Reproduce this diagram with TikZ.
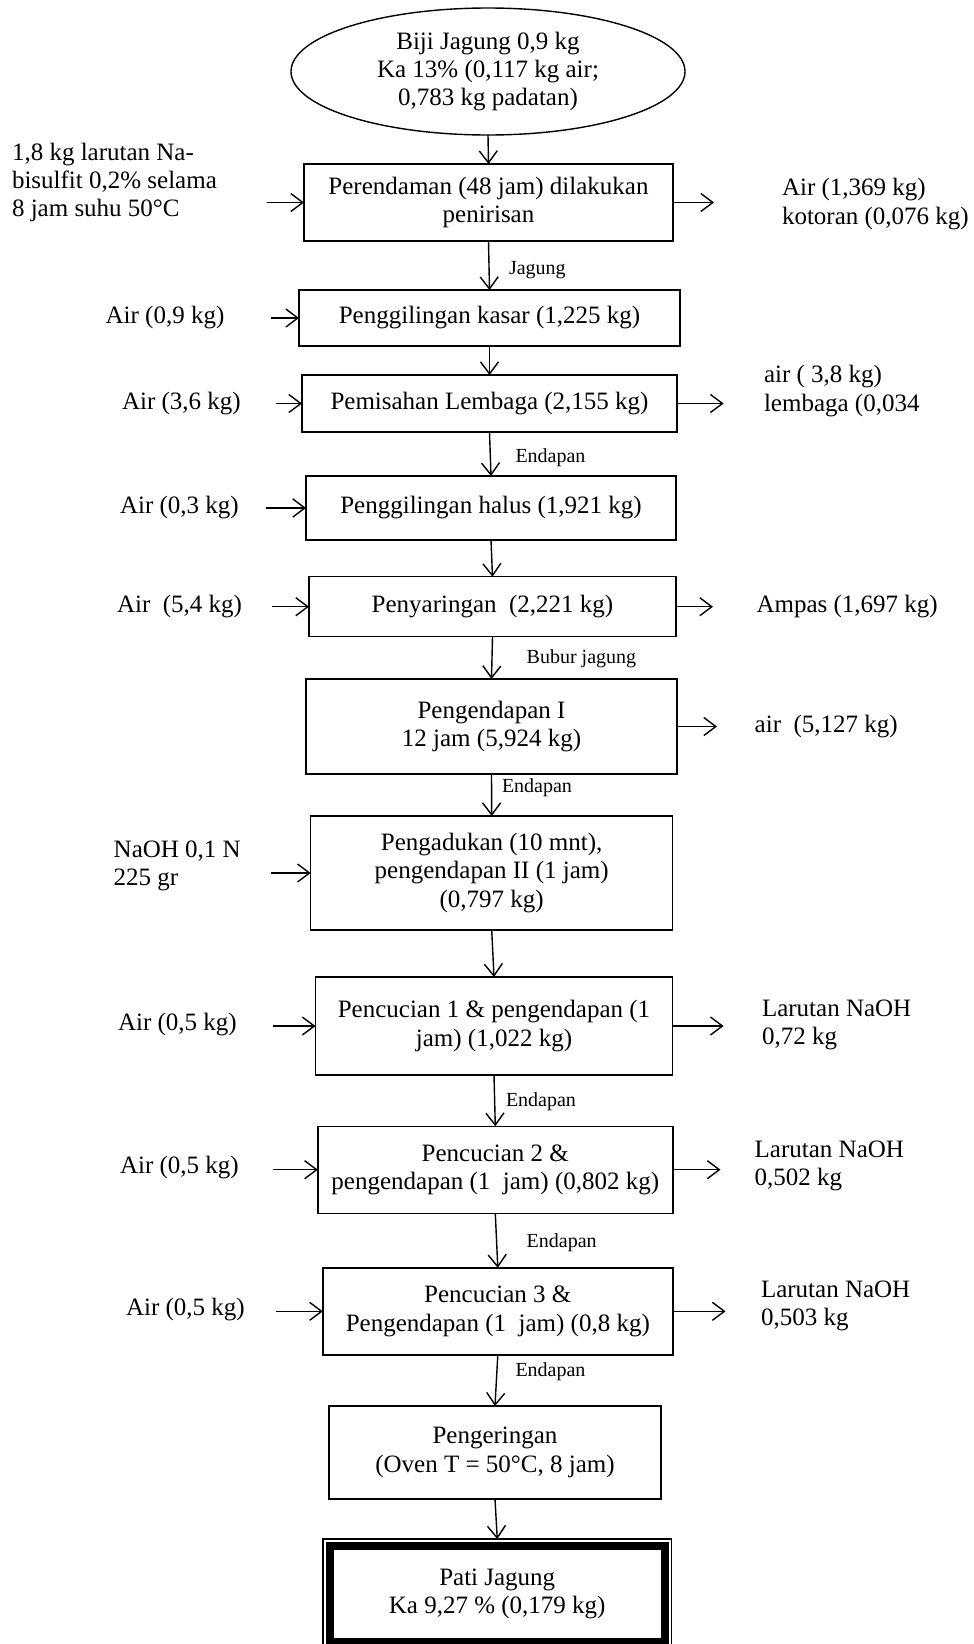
\documentclass[tikz,border=0pt]{standalone}
\usepackage{fontspec}
\setmainfont{Liberation Serif}
\usetikzlibrary{shapes.geometric,arrows.meta,fit}
\begin{document}
\begin{tikzpicture}[x=0.5pt,y=-0.5pt,
  every node/.style={inner sep=0pt, outer sep=0pt},
  txt/.style={font=\fontsize{12.5}{14.2}\selectfont},
  procbox/.style={draw, line width=0.7pt, txt, align=center},
  side/.style={txt, align=left, anchor=west},
  small/.style={font=\fontsize{10}{12}\selectfont, anchor=west},
  arr/.style={line width=0.7pt, -{Straight Barb[length=6pt,width=9pt]}}
]
\useasboundingbox (0,0) rectangle (974,1644);
\clip (0,0) rectangle (974,1644);

% start
\node[draw, ellipse, line width=0.7pt, txt, align=center, minimum width=197pt, minimum height=63.5pt] (e) at (488,71.5) {Biji Jagung 0,9 kg\\Ka 13\% (0,117 kg air;\\0,783 kg padatan)};

% process boxes
\node[procbox, minimum width=184.5pt, minimum height=38.5pt] (b1) at (488.5,202.5) {Perendaman (48 jam) dilakukan\\penirisan};
\node[procbox, minimum width=190.5pt, minimum height=28pt] (b2) at (489.5,318) {Penggilingan kasar (1,225 kg)};
\node[procbox, minimum width=187.5pt, minimum height=28.5pt] (b3) at (489.5,403.5) {Pemisahan Lembaga (2,155 kg)};
\node[procbox, minimum width=185pt, minimum height=32pt] (b4) at (491,508) {Penggilingan halus (1,921 kg)};
\node[procbox, minimum width=183.5pt, minimum height=30pt] (b5) at (492.5,606.7) {Penyaringan\ \ (2,221 kg)};
\node[procbox, minimum width=185.5pt, minimum height=47.5pt] (b6) at (491.5,726.5) {Pengendapan I\\12 jam (5,924 kg)};
\node[procbox, minimum width=181pt, minimum height=57pt] (b7) at (491.7,873) {Pengadukan (10 mnt),\\pengendapan II (1 jam)\\(0,797 kg)};
\node[procbox, minimum width=178.5pt, minimum height=49pt] (b8) at (494,1026) {Pencucian 1 \& pengendapan (1\\jam) (1,022 kg)};
\node[procbox, minimum width=177.5pt, minimum height=43.5pt] (b9) at (495.3,1169.7) {Pencucian 2 \&\\pengendapan (1\ \ jam) (0,802 kg)};
\node[procbox, minimum width=175pt, minimum height=43.5pt] (b10) at (497.8,1311.3) {Pencucian 3 \&\\Pengendapan (1\ \ jam) (0,8 kg)};
\node[procbox, minimum width=166pt, minimum height=46.5pt] (b11) at (495,1452.5) {Pengeringan\\(Oven T = 50°C, 8 jam)};
\node[draw, line width=4pt, txt, align=center, minimum width=167.25pt, minimum height=48pt] (pj) at (497.25,1594) {Pati Jagung\\Ka 9,27 \% (0,179 kg)};
\node[draw, line width=0.6pt, fit=(pj), inner sep=3.5pt] (pjo) {};

% vertical flow
\draw[arr] (e.south) -- (b1.north);
\draw[arr] (b1.south) -- (b2.north);
\draw[arr] (b2.south) -- (b3.north);
\draw[arr] (b3.south) -- (b4.north);
\draw[arr] (b4.south) -- (b5.north);
\draw[arr] (b5.south) -- (b6.north);
\draw[arr] (b6.south) -- (b7.north);
\draw[arr] (b7.south) -- (b8.north);
\draw[arr] (b8.south) -- (b9.north);
\draw[arr] (b9.south) -- (b10.north);
\draw[arr] (b10.south) -- (b11.north);
\draw[arr] (b11.south) -- (pjo.north);

% flow labels
\node[small] (f1) at (509,270) {Jagung};
\node[small] (f2) at (515.5,457.7) {Endapan};
\node[small] (f3) at (526.7,659) {Bubur jagung};
\node[small] (f4) at (502,788) {Endapan};
\node[small] (f5) at (506,1101.7) {Endapan};
\node[small] (f6) at (526.7,1243) {Endapan};
\node[small] (f7) at (515.5,1371.7) {Endapan};

% inputs (left)
\node[side] (l1) at (12,182.5) {1,8 kg larutan Na-\\bisulfit 0,2\% selama\\8 jam suhu 50°C};
\node[side] (l2) at (105.6,318) {Air (0,9 kg)};
\node[side] (l3) at (122,404) {Air (3,6 kg)};
\node[side] (l4) at (120,508) {Air (0,3 kg)};
\node[side] (l5) at (117,606.7) {Air\ \ (5,4 kg)};
\node[side] (l7) at (113.7,866) {NaOH 0,1 N\\225 gr};
\node[side] (l8) at (118,1025) {Air (0,5 kg)};
\node[side] (l9) at (120,1168) {Air (0,5 kg)};
\node[side] (l10) at (126,1310) {Air (0,5 kg)};

\coordinate (i1) at (267,202.5);
\coordinate (i2) at (271,318);
\coordinate (i3) at (276,403.5);
\coordinate (i4) at (266,508);
\coordinate (i5) at (272,606.7);
\coordinate (i7) at (271,873);
\coordinate (i8) at (273,1026);
\coordinate (i9) at (273,1169.7);
\coordinate (i10) at (276.4,1311.3);
\draw[arr] (i1) -- (b1.west);
\draw[arr] (i2) -- (b2.west);
\draw[arr] (i3) -- (b3.west);
\draw[arr] (i4) -- (b4.west);
\draw[arr] (i5) -- (b5.west);
\draw[arr] (i7) -- (b7.west);
\draw[arr] (i8) -- (b8.west);
\draw[arr] (i9) -- (b9.west);
\draw[arr] (i10) -- (b10.west);

% outputs (right)
\coordinate (o1) at (714,202.5);
\coordinate (o3) at (723.6,403.5);
\coordinate (o5) at (713,606.7);
\coordinate (o6) at (717,726.5);
\coordinate (o8) at (723.6,1026);
\coordinate (o9) at (720.5,1169.7);
\coordinate (o10) at (725.5,1311.3);
\draw[arr] (b1.east) -- (o1);
\draw[arr] (b3.east) -- (o3);
\draw[arr] (b5.east) -- (o5);
\draw[arr] (b6.east) -- (o6);
\draw[arr] (b8.east) -- (o8);
\draw[arr] (b9.east) -- (o9);
\draw[arr] (b10.east) -- (o10);

\node[side] (r1) at (782,204) {Air (1,369 kg)\\kotoran (0,076 kg)};
\node[side] (r3) at (764,391) {air ( 3,8 kg)\\lembaga (0,034};
\node[side] (r5) at (756.5,606.7) {Ampas (1,697 kg)};
\node[side] (r6) at (754.7,727) {air\ \ (5,127 kg)};
\node[side] (r8) at (762,1025) {Larutan NaOH\\0,72 kg};
\node[side] (r9) at (754.7,1166) {Larutan NaOH\\0,502 kg};
\node[side] (r10) at (761,1306) {Larutan NaOH\\0,503 kg};
\end{tikzpicture}
\end{document}
